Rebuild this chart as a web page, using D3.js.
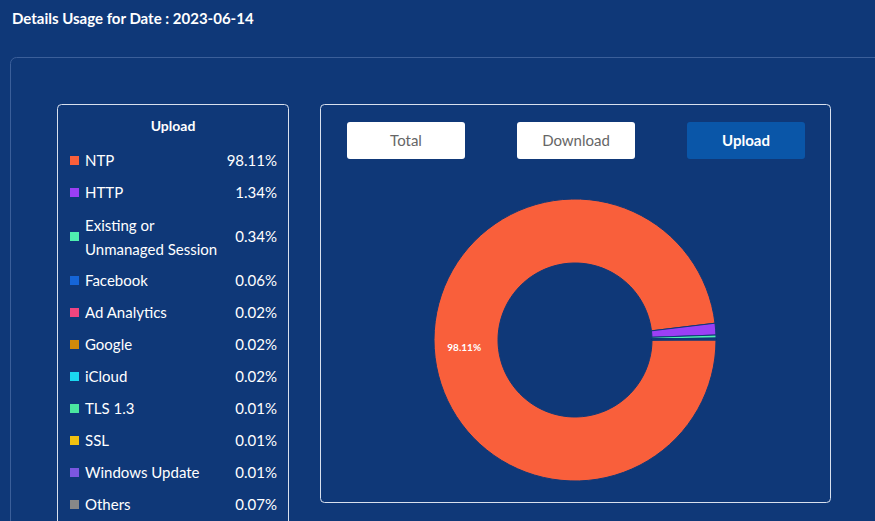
<!DOCTYPE html>
<html><head><meta charset="utf-8">
<script src="https://cdn.jsdelivr.net/npm/d3@7"></script>
<style>
body{margin:0;background:#0f3878;font-family:Lato,"Open Sans",sans-serif;}
</style></head><body>
<svg id="c" width="875" height="521"></svg>
<script>
const categories = ["NTP","HTTP","Existing or Unmanaged Session","Facebook","Ad Analytics","Google","iCloud","TLS 1.3","SSL","Windows Update","Others"];
const values = [98.11,1.34,0.34,0.06,0.02,0.02,0.02,0.01,0.01,0.01,0.07];
const colors = ["#f95f3b","#9b3ff5","#4ef0b0","#1565d8","#f0457f","#d08a0a","#1ad8f0","#4ae6a0","#f0c010","#7b57e0","#888888"];
const buttons = ["Total","Download","Upload"];

const svg = d3.select("#c");
svg.append("text").attr("x",12).attr("y",24).attr("fill","#fff").attr("font-size",15).attr("font-weight","bold").text("Details Usage for Date : 2023-06-14");
svg.append("rect").attr("x",10.5).attr("y",57.5).attr("width",900).attr("height",500).attr("rx",6).attr("fill","none").attr("stroke","#3b5f9a");

// legend panel
svg.append("rect").attr("x",57.5).attr("y",104.5).attr("width",231).attr("height",430).attr("rx",4).attr("fill","none").attr("stroke","#d8e0ee");
svg.append("text").attr("x",173).attr("y",131).attr("text-anchor","middle").attr("fill","#fff").attr("font-size",14).attr("font-weight","bold").text("Upload");
const rowY = [161,193,237,281,313,345,377,409,441,473,505];
categories.forEach((c,i)=>{
  const g = svg.append("g").attr("transform",`translate(0,${rowY[i]})`);
  g.append("rect").attr("x",70).attr("y",-5).attr("width",9).attr("height",9).attr("fill",colors[i]);
  if(c.startsWith("Existing")){
    g.append("text").attr("x",85).attr("y",-6).attr("fill","#fff").attr("font-size",15).text("Existing or");
    g.append("text").attr("x",85).attr("y",18).attr("fill","#fff").attr("font-size",15).text("Unmanaged Session");
  } else {
    g.append("text").attr("x",85).attr("y",5).attr("fill","#fff").attr("font-size",15).text(c);
  }
  g.append("text").attr("x",277).attr("y",5).attr("text-anchor","end").attr("fill","#fff").attr("font-size",15).text(values[i].toFixed(2)+"%");
});

// chart panel
svg.append("rect").attr("x",320.5).attr("y",104.5).attr("width",510).attr("height",398).attr("rx",4).attr("fill","none").attr("stroke","#d8e0ee");
const bx = d3.scalePoint().domain(buttons).range([406,576+170]);
buttons.forEach(b=>{
  const on = b==="Upload";
  svg.append("rect").attr("x",bx(b)-59).attr("y",122).attr("width",118).attr("height",37).attr("rx",3)
    .attr("fill",on?"#0a56a8":"#fff");
  svg.append("text").attr("x",bx(b)).attr("y",146).attr("text-anchor","middle").attr("font-size",15)
    .attr("font-weight",on?"bold":"normal").attr("fill",on?"#fff":"#666").text(b);
});

const cx=575, cy=340, R=141, r=77;
const pie = d3.pie().sort(null).startAngle(Math.PI/2).endAngle(Math.PI/2+2*Math.PI);
const arc = d3.arc().innerRadius(r).outerRadius(R);
const arcs = pie(values);
const g = svg.append("g").attr("transform",`translate(${cx},${cy})`);
g.selectAll("path").data(arcs).join("path").attr("d",arc)
  .attr("fill",(d,i)=>colors[i]).attr("stroke","#0f3878").attr("stroke-width",1);
const a0 = arcs[0], mid=(a0.startAngle+a0.endAngle)/2;
const lr = R-30;
g.append("text").attr("x",Math.sin(mid)*lr).attr("y",-Math.cos(mid)*lr+4).attr("text-anchor","middle")
  .attr("fill","#fff").attr("font-size",10).attr("font-weight","bold").text(values[0].toFixed(2)+"%");
</script></body></html>
